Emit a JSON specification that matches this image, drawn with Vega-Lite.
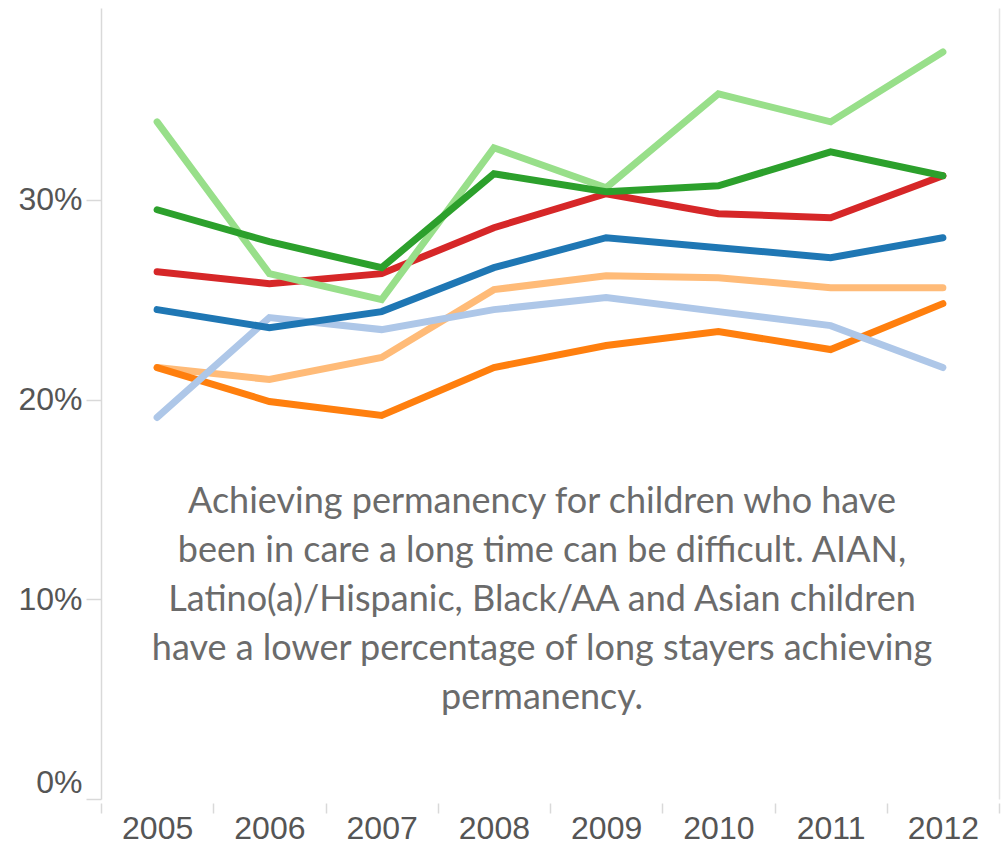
{
  "$schema": "https://vega.github.io/schema/vega-lite/v6.json",
  "width": 898,
  "height": 791,
  "autosize": {"type": "none"},
  "padding": {"left": 101, "top": 8, "right": 2, "bottom": 53},
  "background": "white",
  "config": {
    "view": {"stroke": null},
    "axis": {"grid": false, "title": null, "labelFont": "Liberation Sans", "labelFontSize": 32, "labelColor": "#555555", "domainColor": "#d9d9d9", "tickColor": "#d9d9d9", "domainWidth": 1.5, "tickWidth": 1.5}
  },
  "datasets": {
    "rates": [
      {"group": "Black/AA", "year": "2005", "rate": 0.216},
      {"group": "Black/AA", "year": "2006", "rate": 0.210},
      {"group": "Black/AA", "year": "2007", "rate": 0.221},
      {"group": "Black/AA", "year": "2008", "rate": 0.255},
      {"group": "Black/AA", "year": "2009", "rate": 0.262},
      {"group": "Black/AA", "year": "2010", "rate": 0.261},
      {"group": "Black/AA", "year": "2011", "rate": 0.256},
      {"group": "Black/AA", "year": "2012", "rate": 0.256},
      {"group": "AIAN", "year": "2005", "rate": 0.216},
      {"group": "AIAN", "year": "2006", "rate": 0.199},
      {"group": "AIAN", "year": "2007", "rate": 0.192},
      {"group": "AIAN", "year": "2008", "rate": 0.216},
      {"group": "AIAN", "year": "2009", "rate": 0.227},
      {"group": "AIAN", "year": "2010", "rate": 0.234},
      {"group": "AIAN", "year": "2011", "rate": 0.225},
      {"group": "AIAN", "year": "2012", "rate": 0.248},
      {"group": "Asian", "year": "2005", "rate": 0.191},
      {"group": "Asian", "year": "2006", "rate": 0.241},
      {"group": "Asian", "year": "2007", "rate": 0.235},
      {"group": "Asian", "year": "2008", "rate": 0.245},
      {"group": "Asian", "year": "2009", "rate": 0.251},
      {"group": "Asian", "year": "2010", "rate": 0.244},
      {"group": "Asian", "year": "2011", "rate": 0.237},
      {"group": "Asian", "year": "2012", "rate": 0.216},
      {"group": "Latino(a)/Hispanic", "year": "2005", "rate": 0.245},
      {"group": "Latino(a)/Hispanic", "year": "2006", "rate": 0.236},
      {"group": "Latino(a)/Hispanic", "year": "2007", "rate": 0.244},
      {"group": "Latino(a)/Hispanic", "year": "2008", "rate": 0.266},
      {"group": "Latino(a)/Hispanic", "year": "2009", "rate": 0.281},
      {"group": "Latino(a)/Hispanic", "year": "2010", "rate": 0.276},
      {"group": "Latino(a)/Hispanic", "year": "2011", "rate": 0.271},
      {"group": "Latino(a)/Hispanic", "year": "2012", "rate": 0.281},
      {"group": "White", "year": "2005", "rate": 0.264},
      {"group": "White", "year": "2006", "rate": 0.258},
      {"group": "White", "year": "2007", "rate": 0.263},
      {"group": "White", "year": "2008", "rate": 0.286},
      {"group": "White", "year": "2009", "rate": 0.303},
      {"group": "White", "year": "2010", "rate": 0.293},
      {"group": "White", "year": "2011", "rate": 0.291},
      {"group": "White", "year": "2012", "rate": 0.312},
      {"group": "Unknown", "year": "2005", "rate": 0.339},
      {"group": "Unknown", "year": "2006", "rate": 0.263},
      {"group": "Unknown", "year": "2007", "rate": 0.250},
      {"group": "Unknown", "year": "2008", "rate": 0.326},
      {"group": "Unknown", "year": "2009", "rate": 0.306},
      {"group": "Unknown", "year": "2010", "rate": 0.353},
      {"group": "Unknown", "year": "2011", "rate": 0.339},
      {"group": "Unknown", "year": "2012", "rate": 0.374},
      {"group": "Multi-racial", "year": "2005", "rate": 0.295},
      {"group": "Multi-racial", "year": "2006", "rate": 0.279},
      {"group": "Multi-racial", "year": "2007", "rate": 0.266},
      {"group": "Multi-racial", "year": "2008", "rate": 0.313},
      {"group": "Multi-racial", "year": "2009", "rate": 0.304},
      {"group": "Multi-racial", "year": "2010", "rate": 0.307},
      {"group": "Multi-racial", "year": "2011", "rate": 0.324},
      {"group": "Multi-racial", "year": "2012", "rate": 0.312}
    ],
    "note": [
      {"note": "Achieving permanency for children who have\nbeen in care a long time can be difficult. AIAN,\nLatino(a)/Hispanic, Black/AA and Asian children\nhave a lower percentage of long stayers achieving\npermanency."}
    ]
  },
  "resolve": {"axis": {"y": "independent"}},
  "layer": [
    {
      "data": {"name": "rates"},
      "mark": {"type": "line", "strokeWidth": 7, "strokeCap": "round"},
      "encoding": {
        "x": {
          "field": "year", "type": "ordinal", "bandPosition": 0.5,
          "scale": {"type": "band", "paddingInner": 0, "paddingOuter": 0},
          "axis": {"orient": "bottom", "domain": false, "tickBand": "extent", "tickSize": 10, "offset": 4, "labelPadding": 0, "labelAngle": 0}
        },
        "y": {
          "field": "rate", "type": "quantitative",
          "scale": {"domain": [0, 0.396], "nice": false, "zero": true},
          "axis": {"orient": "left", "values": [0, 0.1, 0.2, 0.3], "format": ".0%", "tickSize": 15, "labelPadding": 4, "labelFlush": true}
        },
        "color": {
          "field": "group", "type": "nominal",
          "scale": {
            "domain": ["Black/AA", "AIAN", "Asian", "Latino(a)/Hispanic", "White", "Unknown", "Multi-racial"],
            "range": ["#ffbb78", "#ff7f0e", "#aec7e8", "#1f77b4", "#d62728", "#98df8a", "#2ca02c"]
          },
          "legend": null
        }
      }
    },
    {
      "data": {"name": "note"},
      "mark": {"type": "text", "font": "Lato", "fontSize": 36, "color": "#6b6b6b", "align": "center", "baseline": "alphabetic", "lineBreak": "\n", "lineHeight": 49, "dx": -8},
      "encoding": {
        "x": {"datum": "2008", "type": "ordinal", "bandPosition": 1},
        "y": {"datum": 0.1432, "type": "quantitative", "axis": {"orient": "right", "labels": false, "ticks": false, "values": [], "domainColor": "#e3e3e3"}},
        "text": {"field": "note"}
      }
    }
  ]
}
